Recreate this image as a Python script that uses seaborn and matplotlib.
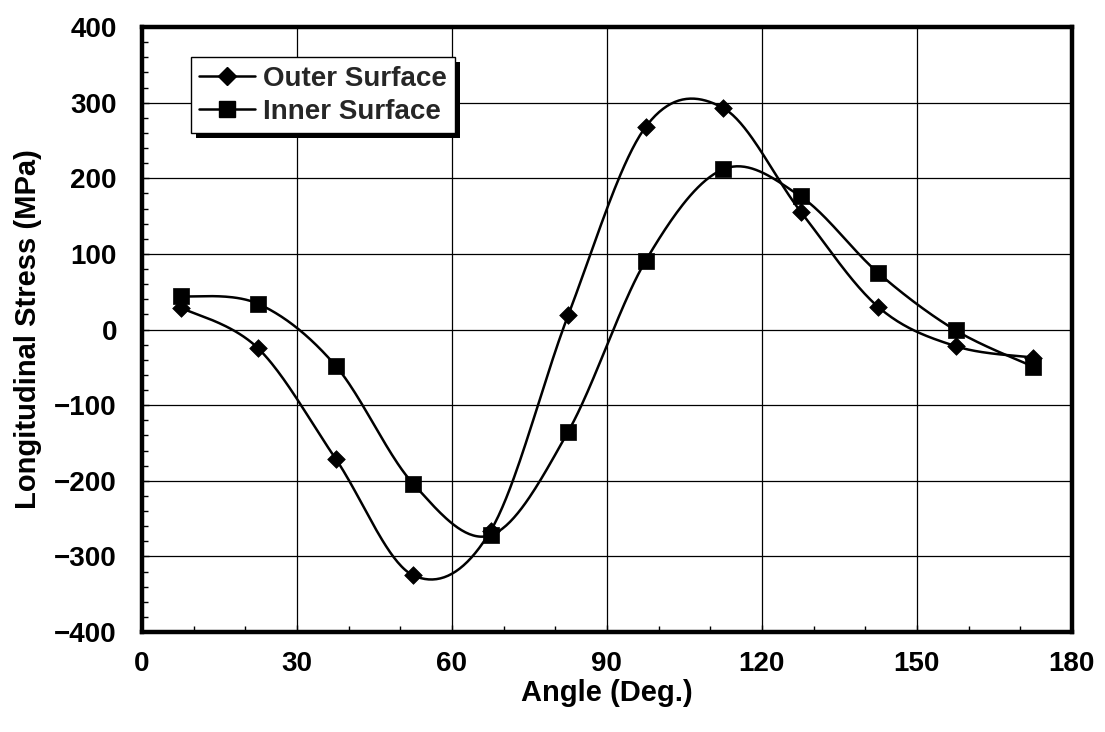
import numpy as np
import pandas as pd
import matplotlib
matplotlib.use("Agg")
import matplotlib.pyplot as plt
import matplotlib.patheffects as pe
from matplotlib.lines import Line2D
from matplotlib.ticker import MultipleLocator
import seaborn as sns

# ---- data ----
angles = [7.5, 22.5, 37.5, 52.5, 67.5, 82.5, 97.5, 112.5, 127.5, 142.5, 157.5, 172.5]
outer_surface = [29, -25, -171, -325, -266, 19, 268, 293, 156, 30, -22, -37]
inner_surface = [44, 34, -48, -204, -272, -135, 91, 212, 176, 75, -1, -49]
series_names = ["Outer Surface", "Inner Surface"]
x_ticks = [0, 30, 60, 90, 120, 150, 180]
y_ticks = [-400, -300, -200, -100, 0, 100, 200, 300, 400]


def smooth_path(xs, ys, n=40):
    """Excel-style smoothed line (Catmull-Rom as cubic Bezier) through the points."""
    xs = np.asarray(xs, float)
    ys = np.asarray(ys, float)
    px, py = [], []
    m = len(xs)
    for i in range(m - 1):
        i0 = max(i - 1, 0)
        i3 = min(i + 2, m - 1)
        p0 = np.array([xs[i], ys[i]])
        p3 = np.array([xs[i + 1], ys[i + 1]])
        p1 = p0 + (np.array([xs[i + 1], ys[i + 1]]) - np.array([xs[i0], ys[i0]])) / 6.0
        p2 = p3 - (np.array([xs[i3], ys[i3]]) - np.array([xs[i], ys[i]])) / 6.0
        t = np.linspace(0, 1, n, endpoint=(i == m - 2))
        b = ((1 - t) ** 3)[:, None] * p0 + (3 * (1 - t) ** 2 * t)[:, None] * p1 \
            + (3 * (1 - t) * t ** 2)[:, None] * p2 + (t ** 3)[:, None] * p3
        px.extend(b[:, 0])
        py.extend(b[:, 1])
    return np.array(px), np.array(py)


sns.set_theme(style="white")
plt.rcParams["font.family"] = ["Liberation Sans", "DejaVu Sans"]

fig = plt.figure(figsize=(11.05, 7.32), dpi=100)
ax = fig.add_axes([0.1285, 0.1366, 0.8415, 0.8264])

markers = ["D", "s"]
msizes = [9, 11]
for name, vals, mk, ms in zip(series_names, [outer_surface, inner_surface], markers, msizes):
    sx, sy = smooth_path(angles, vals)
    curve = pd.DataFrame({"x": sx, "y": sy})
    sns.lineplot(data=curve, x="x", y="y", sort=False, estimator=None,
                 color="black", linewidth=1.8, ax=ax, zorder=3)
    pts = pd.DataFrame({"x": angles, "y": vals})
    sns.scatterplot(data=pts, x="x", y="y", marker=mk, s=ms ** 2, color="black",
                    edgecolor="black", linewidth=0.5, ax=ax, zorder=4)

ax.set_xlim(0, 180)
ax.set_ylim(-400, 400)
ax.set_xticks(x_ticks)
ax.set_yticks(y_ticks)
ax.set_yticklabels([("\u2212" + str(-v)) if v < 0 else str(v) for v in y_ticks])
ax.xaxis.set_minor_locator(MultipleLocator(10))
ax.yaxis.set_minor_locator(MultipleLocator(20))
ax.tick_params(axis="both", which="major", direction="in", length=5, width=1,
               labelsize=20, colors="black")
ax.tick_params(axis="x", which="major", pad=14)
ax.tick_params(axis="y", which="major", pad=18)
ax.tick_params(axis="both", which="minor", direction="in", length=4, width=1,
               colors="black")
ax.tick_params(axis="both", which="both", bottom=True, left=True, top=False, right=False)
for lab in ax.get_xticklabels() + ax.get_yticklabels():
    lab.set_fontweight("bold")

ax.grid(True, which="major", color="black", linewidth=0.9)
ax.set_axisbelow(True)
for sp in ax.spines.values():
    sp.set_visible(True)
    sp.set_color("black")
    sp.set_linewidth(3.2)

ax.set_xlabel("Angle (Deg.)", fontsize=21, fontweight="bold", color="black")
ax.set_ylabel("Longitudinal Stress (MPa)", fontsize=21, fontweight="bold", color="black")
ax.xaxis.set_label_coords(0.5, -0.077)
ax.yaxis.set_label_coords(-0.1075, 0.5)

handles = [Line2D([0], [0], color="black", linewidth=1.8, marker=m, markersize=s,
                  markerfacecolor="black", markeredgecolor="black")
           for m, s in zip(markers, msizes)]
leg = ax.legend(handles, series_names, loc="upper left",
                bbox_to_anchor=(0.0527, 0.950), borderaxespad=0,
                prop={"size": 20, "weight": "bold"}, frameon=True,
                fancybox=False, framealpha=1, edgecolor="black",
                handlelength=2.0, handletextpad=0.3, borderpad=0.3,
                labelspacing=0.25)
frame = leg.get_frame()
frame.set_linewidth(1.0)
frame.set_path_effects([pe.SimplePatchShadow(offset=(3.5, -3.5), shadow_rgbFace="black",
                                             alpha=1.0), pe.Normal()])
leg.set_zorder(10)

fig.savefig("out.png", dpi=100, facecolor="white")
